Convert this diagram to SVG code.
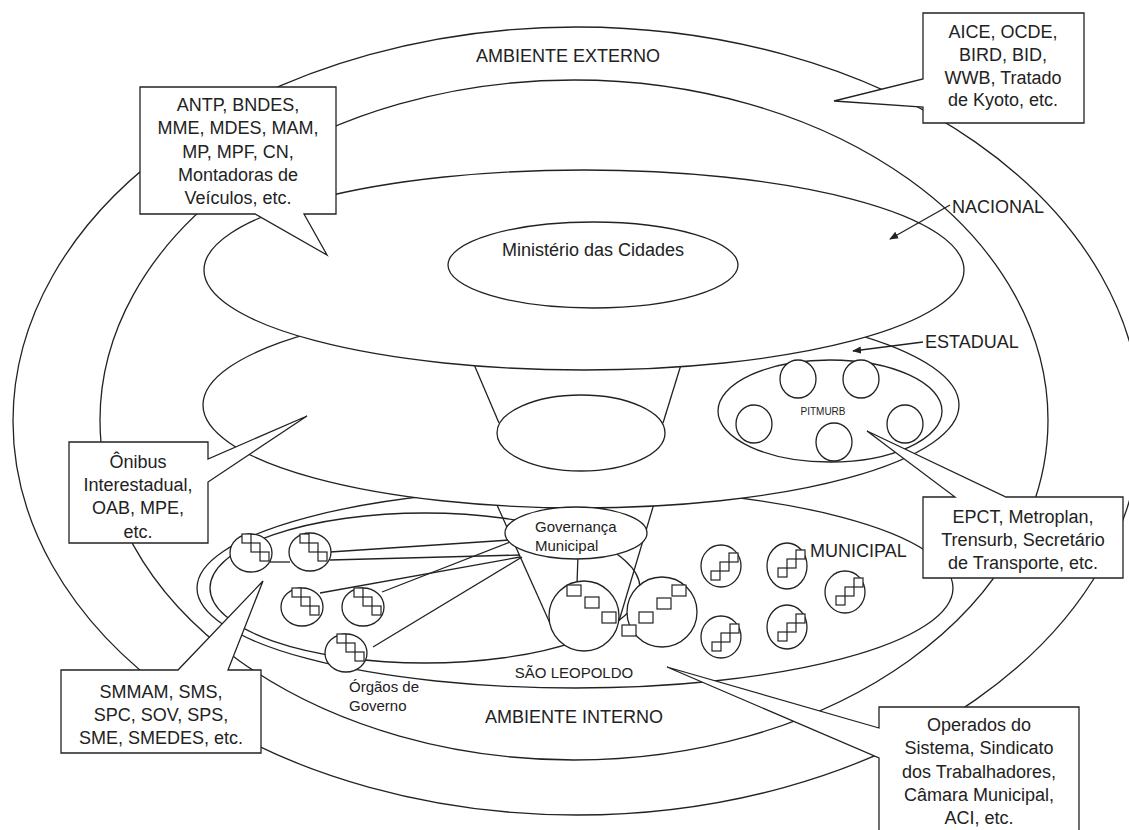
<svg xmlns="http://www.w3.org/2000/svg" width="1129" height="830" viewBox="0 0 1129 830">
<defs>
<style>
.s{fill:#fff;stroke:#222;stroke-width:1.3}
.n{fill:none;stroke:#222;stroke-width:1.3}
.q{fill:#fff;stroke:#222;stroke-width:1.2}
text{font-family:"Liberation Sans",Arial,sans-serif;fill:#222}
.t{font-size:18px}
.c{font-size:18px;text-anchor:middle}
.m{font-size:15px}
</style>
<marker id="ah" viewBox="0 0 10 10" refX="9" refY="5" markerWidth="9" markerHeight="9" orient="auto" markerUnits="userSpaceOnUse">
<path d="M0,1 L10,5 L0,9 Z" fill="#222"/>
</marker>
<g id="stD"><rect class="q" x="0" y="0" width="9" height="9"/><rect class="q" x="9" y="9" width="9" height="9"/><rect class="q" x="18" y="18" width="9" height="9"/></g>
<g id="stU"><rect class="q" x="0" y="18" width="9" height="9"/><rect class="q" x="9" y="9" width="9" height="9"/><rect class="q" x="18" y="0" width="9" height="9"/></g>
</defs>
<rect width="1129" height="830" fill="#fff"/>

<g id="externo"><ellipse class="s" cx="577" cy="421" rx="564" ry="394"/></g>
<g id="interno"><ellipse class="s" cx="574" cy="420" rx="474" ry="340"/></g>
<g id="municipal"><ellipse class="s" cx="575" cy="588" rx="378" ry="100"/></g>
<g id="sao-leopoldo"><ellipse class="n" cx="425" cy="588" rx="215" ry="75"/></g>

<g id="connectors">
<line class="n" x1="270" y1="562" x2="290" y2="562"/>
<line class="n" x1="330" y1="552" x2="510" y2="540"/>
<line class="n" x1="330" y1="560" x2="520" y2="555"/>
<line class="n" x1="320" y1="593" x2="520" y2="557"/>
<line class="n" x1="382" y1="592" x2="510" y2="542"/>
<line class="n" x1="373" y1="647" x2="522" y2="557"/>
<line class="n" x1="497" y1="505" x2="553" y2="630"/>
<line class="n" x1="656" y1="497" x2="619" y2="621"/>
<line class="n" x1="578" y1="555" x2="577" y2="584"/>
</g>

<g id="orgaos">
<ellipse class="s" cx="251" cy="553" rx="21" ry="19"/><use href="#stD" x="242" y="534"/>
<ellipse class="s" cx="310" cy="552" rx="21" ry="19"/><use href="#stD" x="300" y="534"/>
<ellipse class="s" cx="302" cy="607" rx="21" ry="19"/><use href="#stD" x="292" y="588"/>
<ellipse class="s" cx="363" cy="607" rx="21" ry="19"/><use href="#stD" x="354" y="588"/>
<ellipse class="s" cx="346" cy="653" rx="21" ry="19"/><use href="#stD" x="337" y="634"/>
<text class="m" x="349" y="692">Órgãos de</text>
<text class="m" x="349" y="711">Governo</text>
</g>

<g id="municipios">
<ellipse class="s" cx="721" cy="566" rx="20" ry="21"/><use href="#stU" x="711" y="553"/>
<ellipse class="s" cx="787" cy="566" rx="20" ry="23"/><use href="#stU" x="778" y="550"/>
<ellipse class="s" cx="845" cy="592" rx="20" ry="21"/><use href="#stU" x="836" y="578"/>
<ellipse class="s" cx="721" cy="637" rx="20" ry="21"/><use href="#stU" x="712" y="624"/>
<ellipse class="s" cx="787" cy="627" rx="20" ry="22"/><use href="#stU" x="778" y="614"/>
</g>

<g id="grandes">
<circle class="s" cx="584" cy="616" r="35"/>
<rect class="q" x="567" y="585" width="14" height="11"/>
<rect class="q" x="585" y="597" width="14" height="11"/>
<rect class="q" x="602" y="612" width="14" height="11"/>
<circle class="s" cx="662" cy="612" r="35"/>
<rect class="q" x="672" y="585" width="14" height="11"/>
<rect class="q" x="657" y="598" width="14" height="11"/>
<rect class="q" x="639" y="612" width="14" height="11"/>
<rect class="q" x="622" y="625" width="14" height="11"/>
</g>

<g id="estadual"><ellipse class="s" cx="581" cy="405" rx="378" ry="103"/></g>
<g id="governanca">
<ellipse class="s" cx="576" cy="533" rx="71" ry="26"/>
<text class="m" x="535" y="532">Governança</text>
<text class="m" x="535" y="551">Municipal</text>
</g>
<g id="pitmurb">
<ellipse class="s" cx="830" cy="411" rx="112" ry="51"/>
<ellipse class="s" cx="798" cy="379" rx="18" ry="19"/>
<ellipse class="s" cx="861" cy="379" rx="18" ry="19"/>
<ellipse class="s" cx="754" cy="424" rx="18" ry="19"/>
<ellipse class="s" cx="905" cy="424" rx="18" ry="19"/>
<ellipse class="s" cx="834" cy="442" rx="18" ry="19"/>
<text x="823" y="415" font-size="10" text-anchor="middle">PITMURB</text>
</g>
<g id="centro"><ellipse class="s" cx="581" cy="433" rx="84" ry="38"/></g>
<g id="connectors-top">
<line class="n" x1="470" y1="355" x2="499" y2="423"/>
<line class="n" x1="684" y1="355" x2="663" y2="423"/>
</g>
<g id="nacional"><ellipse class="s" cx="584" cy="270" rx="380" ry="100"/></g>
<g id="ministerio">
<ellipse class="s" cx="593" cy="265" rx="145" ry="43"/>
<text class="c" x="593" y="256">Ministério das Cidades</text>
</g>

<g id="callout-antp">
<path class="s" d="M140,87 H336 V214 H304 L327,255 L255,214 H140 Z"/>
<text class="c" x="238" y="111">ANTP, BNDES,</text>
<text class="c" x="238" y="134">MME, MDES, MAM,</text>
<text class="c" x="238" y="158">MP, MPF, CN,</text>
<text class="c" x="238" y="181">Montadoras de</text>
<text class="c" x="238" y="204">Veículos, etc.</text>
</g>
<g id="callout-aice">
<path class="s" d="M923,13 H1084 V123 H923 V107 L834,101 L923,79 Z"/>
<text class="c" x="1003" y="38">AICE, OCDE,</text>
<text class="c" x="1003" y="61">BIRD, BID,</text>
<text class="c" x="1003" y="84">WWB, Tratado</text>
<text class="c" x="1003" y="106">de Kyoto, etc.</text>
</g>
<g id="callout-onibus">
<path class="s" d="M69,442 H208 V459 L307,416 L208,482 V543 H69 Z"/>
<text class="c" x="138" y="468">Ônibus</text>
<text class="c" x="138" y="491">Interestadual,</text>
<text class="c" x="138" y="514">OAB, MPE,</text>
<text class="c" x="138" y="538">etc.</text>
</g>
<g id="callout-smmam">
<path class="s" d="M61,670 H178 L263,581 L228,670 H261 V753 H61 Z"/>
<text class="c" x="161" y="698">SMMAM, SMS,</text>
<text class="c" x="161" y="721">SPC, SOV, SPS,</text>
<text class="c" x="161" y="744">SME, SMEDES, etc.</text>
</g>
<g id="callout-epct">
<path class="s" d="M923,497 H955 L867,431 L1006,497 H1123 V578 H923 Z"/>
<text class="c" x="1023" y="523">EPCT, Metroplan,</text>
<text class="c" x="1023" y="546">Trensurb, Secretário</text>
<text class="c" x="1023" y="569">de Transporte, etc.</text>
</g>
<g id="callout-operados">
<path class="s" d="M879,707 H1079 V840 H879 V758 L667,667 L879,728 Z"/>
<text class="c" x="979" y="731">Operados do</text>
<text class="c" x="979" y="754">Sistema, Sindicato</text>
<text class="c" x="979" y="778">dos Trabalhadores,</text>
<text class="c" x="979" y="801">Câmara Municipal,</text>
<text class="c" x="979" y="824">ACI, etc.</text>
</g>

<g id="label-arrows">
<line class="n" x1="950" y1="205" x2="890" y2="239" marker-end="url(#ah)"/>
<line class="n" x1="923" y1="342" x2="853" y2="351" marker-end="url(#ah)"/>
</g>
<g id="labels">
<text class="c" x="568" y="62">AMBIENTE EXTERNO</text>
<text class="t" x="952" y="213">NACIONAL</text>
<text class="t" x="925" y="348">ESTADUAL</text>
<text class="t" x="810" y="557">MUNICIPAL</text>
<text class="c" x="574" y="723">AMBIENTE INTERNO</text>
<text class="m" x="574" y="678" text-anchor="middle">SÃO LEOPOLDO</text>
</g>
</svg>
